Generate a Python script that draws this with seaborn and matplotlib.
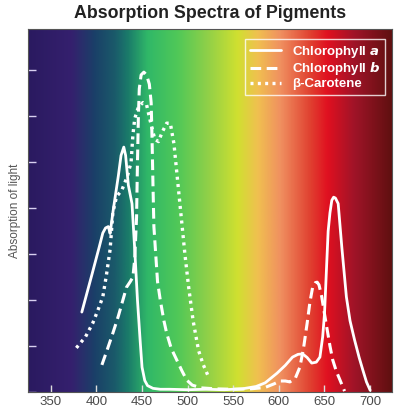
import matplotlib
matplotlib.use("Agg")
import matplotlib.pyplot as plt
from matplotlib.colors import LinearSegmentedColormap
import seaborn as sns
import numpy as np
import pandas as pd

# Chlorophyll a (solid)
chl_a_nm = [384, 395, 403, 407, 410, 413, 415, 418, 420, 424, 427, 430, 432, 435,
            439, 442, 445, 448, 450, 453, 456, 462, 470, 480, 500, 520, 540, 560,
            575, 585, 598, 607, 615, 621, 626, 631, 636, 641, 645, 648, 650, 652,
            654, 656, 658, 660, 662, 665, 669, 674, 678, 683, 688, 692, 696, 700]
chl_a = [1.74, 2.55, 3.15, 3.46, 3.57, 3.6, 3.45, 3.9, 4.17, 4.7, 5.15, 5.33, 5.15, 4.5,
         4.1, 3.1, 2.0, 1.1, 0.54, 0.25, 0.14, 0.08, 0.06, 0.06, 0.05, 0.06, 0.05, 0.07,
         0.12, 0.2, 0.41, 0.58, 0.76, 0.82, 0.83, 0.75, 0.63, 0.65, 0.76, 1.2, 1.7, 2.6,
         3.5, 3.9, 4.17, 4.24, 4.22, 4.1, 3.15, 2.07, 1.55, 1.13, 0.75, 0.48, 0.22, 0.04]

# Chlorophyll b (dashed)
chl_b_nm = [406, 412, 418, 424, 429, 433, 437, 440, 442, 444, 445, 446, 447, 449, 452,
            455, 458, 460, 461, 462, 463, 465, 467, 470, 474, 477, 482, 488, 494, 499,
            505, 515, 530, 550, 570, 585, 595, 601, 607, 612, 618, 623, 627, 631, 634,
            637, 640, 642, 644, 647, 650, 653, 656, 659, 663, 667, 672]
chl_b = [0.59, 0.93, 1.28, 1.65, 2.0, 2.28, 2.4, 2.5, 2.9, 3.8, 5.0, 6.0, 6.6, 6.9, 6.96,
         6.9, 6.7, 6.3, 5.5, 4.5, 3.6, 3.0, 2.4, 2.0, 1.55, 1.28, 0.95, 0.7, 0.45, 0.26,
         0.15, 0.09, 0.07, 0.06, 0.07, 0.1, 0.18, 0.24, 0.24, 0.22, 0.3, 0.54, 0.95, 1.5,
         1.95, 2.28, 2.38, 2.39, 2.33, 2.07, 1.7, 1.35, 1.0, 0.7, 0.45, 0.26, 0.02]

# beta-Carotene (dotted)
carot_nm = [378, 388, 396, 402, 407, 411, 415, 418, 422, 428, 434, 438, 440, 442, 446,
            451, 455, 459, 464, 468, 472, 477, 481, 485, 489, 493, 497, 501, 506, 512,
            517, 522]
carot = [0.96, 1.2, 1.5, 1.8, 2.07, 2.55, 3.1, 3.9, 4.25, 4.4, 4.7, 5.0, 5.6, 5.95, 6.2,
         6.3, 6.25, 5.9, 5.5, 5.45, 5.65, 5.85, 5.85, 5.4, 4.6, 3.8, 3.0, 2.3, 1.55, 0.9,
         0.6, 0.37]

# background spectrum colours
spec_nm = [325, 372, 398, 420, 434, 456, 489, 522, 555, 577, 602, 635, 654, 683, 724]
spec_col = ['#2a1a60', '#35206e', '#1a4068', '#1a5a6a', '#1a7a6a', '#30b868', '#50c858',
            '#90d048', '#d0e030', '#f0c050', '#f09060', '#e04030', '#e01020', '#a01428',
            '#601010']

xticks = [350, 400, 450, 500, 550, 600, 650, 700]
XMIN, XMAX = 325, 724
YMAX = 7.9

sns.set_style("ticks")
plt.rcParams['font.family'] = ['Liberation Sans', 'DejaVu Sans']

fig = plt.figure(figsize=(4.0, 4.13), dpi=100)
ax = fig.add_axes([0.07, 0.0508, 0.91, 0.879])

# spectrum background
pos = [(n - XMIN) / (XMAX - XMIN) for n in spec_nm]
cmap = LinearSegmentedColormap.from_list("spec", list(zip(pos, spec_col)))
grad = np.linspace(0, 1, 512).reshape(1, -1)
ax.imshow(grad, cmap=cmap, aspect='auto', extent=[XMIN, XMAX, 0, YMAX], zorder=0)

df_a = pd.DataFrame({"nm": chl_a_nm, "abs": chl_a})
df_b = pd.DataFrame({"nm": chl_b_nm, "abs": chl_b})
df_c = pd.DataFrame({"nm": carot_nm, "abs": carot})

sns.lineplot(data=df_a, x="nm", y="abs", ax=ax, color='white', lw=2.0,
             sort=False, estimator=None, label=r'Chlorophyll $\mathbfit{a}$')
sns.lineplot(data=df_b, x="nm", y="abs", ax=ax, color='white', lw=2.2,
             sort=False, estimator=None, label=r'Chlorophyll $\mathbfit{b}$')
sns.lineplot(data=df_c, x="nm", y="abs", ax=ax, color='white', lw=2.4,
             sort=False, estimator=None, label='β-Carotene')
lines = ax.get_lines()
lines[1].set_dashes([3.5, 1.8])
lines[2].set_dashes([0.9, 1.3])

ax.set_xlim(XMIN, XMAX)
ax.set_ylim(0, YMAX)
ax.set_xticks(xticks)
ax.set_yticks(range(0, 8))
ax.tick_params(axis='x', direction='in', color='#dddddd', length=5, width=1,
               labelcolor='#4a4a4a', labelsize=9.5, pad=3)
ax.tick_params(axis='y', direction='in', color='#d8d0f0', length=6, width=1,
               labelleft=False)
for s in ax.spines.values():
    s.set_color('#555555')
    s.set_linewidth(0.8)

ax.set_xlabel('')
ax.set_ylabel('Absorption of light', fontsize=8.5, color='#555555', labelpad=5)
ax.set_title('Absorption Spectra of Pigments', fontsize=12.8, fontweight='bold',
             color='#222222', pad=8)

leg = ax.legend(loc='upper right', bbox_to_anchor=(0.98, 0.972), borderaxespad=0,
                frameon=True, facecolor='none', edgecolor='white', labelcolor='white',
                prop={'weight': 'bold', 'size': 9.5}, handlelength=2.4,
                handletextpad=0.8, labelspacing=0.05, borderpad=0.35, fancybox=False)
leg.get_frame().set_linewidth(1.0)

fig.savefig("out.png", dpi=100)
